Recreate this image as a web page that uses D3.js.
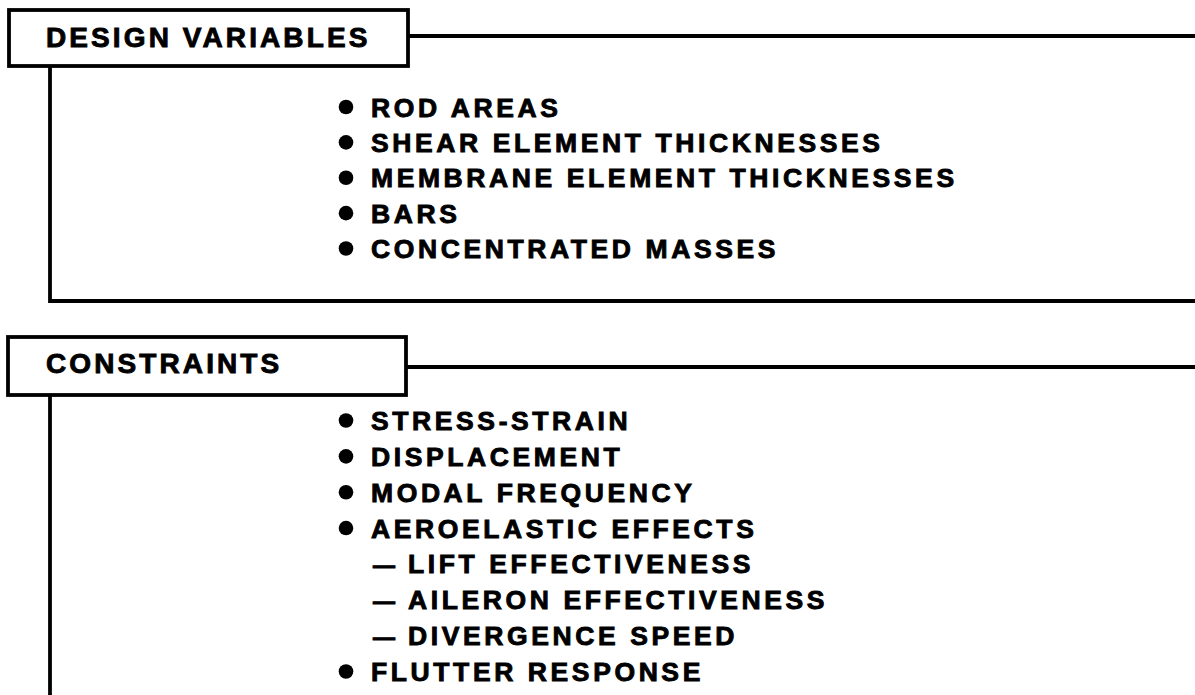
<!DOCTYPE html>
<html>
<head>
<meta charset="utf-8">
<script src="https://cdn.jsdelivr.net/npm/d3@7"></script>
<style>
  html, body { margin: 0; padding: 0; background: #fff; }
  svg { display: block; }
  text { font-family: "Liberation Sans", Arial, Helvetica, sans-serif; font-weight: bold; fill: #000; stroke: #000; stroke-width: 0.9px; }
</style>
</head>
<body>
<script>
// ---- data ----
const sectionTitles = ["DESIGN VARIABLES", "CONSTRAINTS"];
const designVariables = [
  "ROD AREAS",
  "SHEAR ELEMENT THICKNESSES",
  "MEMBRANE ELEMENT THICKNESSES",
  "BARS",
  "CONCENTRATED MASSES"
];
const constraintItems = [
  "STRESS-STRAIN",
  "DISPLACEMENT",
  "MODAL FREQUENCY",
  "AEROELASTIC EFFECTS",
  "LIFT EFFECTIVENESS",
  "AILERON EFFECTIVENESS",
  "DIVERGENCE SPEED",
  "FLUTTER RESPONSE"
];
const constraintLevels = [0, 0, 0, 0, 1, 1, 1, 0];

// ---- layout ----
const W = 1195, H = 695;
const svg = d3.select("body").append("svg").attr("width", W).attr("height", H);
const SW = 3.8;

const sections = [
  { title: sectionTitles[0], items: designVariables, levels: designVariables.map(() => 0),
    box: { x0: 9, y0: 10, x1: 408, y1: 66 }, connY: 36, titleY: 47, vx: 50, vBottom: 301, closed: true,
    yScale: d3.scaleLinear().domain([0, designVariables.length - 1]).range([116.5, 258]) },
  { title: sectionTitles[1], items: constraintItems, levels: constraintLevels,
    box: { x0: 8, y0: 337, x1: 406, y1: 395 }, connY: 367, titleY: 373, vx: 50, vBottom: H + 5, closed: false,
    yScale: d3.scaleLinear().domain([0, constraintItems.length - 1]).range([430, 681]) }
];

const xBullet = 346, xText = 371, xDash = 373, xSubText = 408;

sections.forEach(s => {
  const g = svg.append("g");
  const b = s.box;
  g.append("rect")
    .attr("x", b.x0).attr("y", b.y0)
    .attr("width", b.x1 - b.x0).attr("height", b.y1 - b.y0)
    .attr("fill", "none").attr("stroke", "#000").attr("stroke-width", SW);
  g.append("line")
    .attr("x1", b.x1).attr("x2", W + 5).attr("y1", s.connY).attr("y2", s.connY)
    .attr("stroke", "#000").attr("stroke-width", SW);
  g.append("path")
    .attr("d", s.closed
      ? `M${s.vx},${b.y1} L${s.vx},${s.vBottom} L${W + 5},${s.vBottom}`
      : `M${s.vx},${b.y1} L${s.vx},${s.vBottom}`)
    .attr("fill", "none").attr("stroke", "#000").attr("stroke-width", SW);
  g.append("text")
    .attr("x", 46).attr("y", s.titleY)
    .style("font-size", "28px").style("letter-spacing", "3.1px")
    .text(s.title);

  const rows = g.selectAll("g.row").data(s.items.map((t, i) => ({ t, i, lvl: s.levels[i] })))
    .enter().append("g").attr("class", "row");
  rows.filter(d => d.lvl === 0).append("circle")
    .attr("cx", xBullet).attr("cy", d => s.yScale(d.i) - 9.5).attr("r", 7.3).attr("fill", "#000");
  rows.filter(d => d.lvl === 1).append("text")
    .attr("x", xDash).attr("y", d => s.yScale(d.i))
    .style("font-size", "22px")
    .text("\u2014");
  rows.append("text")
    .attr("x", d => d.lvl === 0 ? xText : xSubText).attr("y", d => s.yScale(d.i))
    .style("font-size", "26.5px").style("letter-spacing", "3.6px")
    .text(d => d.t);
});
</script>
</body>
</html>
